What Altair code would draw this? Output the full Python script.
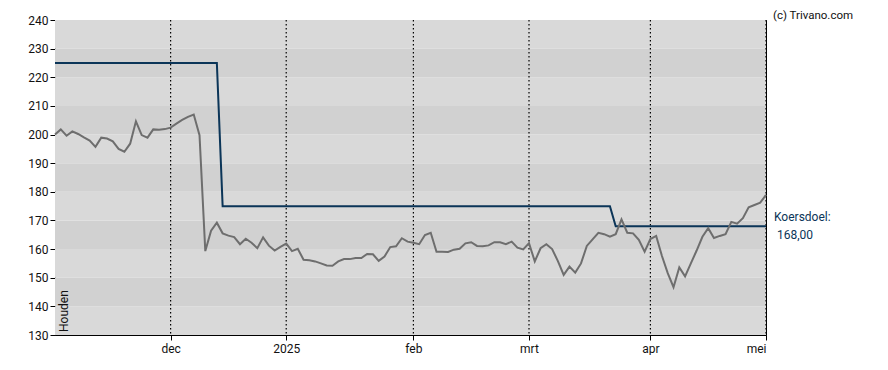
import altair as alt
import pandas as pd

# trading-day index (0 = start of chart) and closing prices
price = [200.0, 201.8, 199.6, 201.1, 200.2, 199.0, 197.9, 195.7, 198.9, 198.6,
         197.6, 195.0, 194.0, 196.8, 204.6, 199.8, 198.9, 201.8, 201.7, 201.9,
         202.4, 203.8, 205.1, 206.2, 207.0, 199.8, 159.3, 166.4, 169.2, 165.5,
         164.7, 164.2, 161.7, 163.6, 162.2, 160.3, 164.1, 161.2, 159.5, 160.8,
         161.9, 159.3, 160.1, 156.3, 156.1, 155.7, 155.0, 154.3, 154.2, 155.7,
         156.5, 156.5, 156.9, 156.9, 158.3, 158.2, 155.9, 157.4, 160.7, 161.0,
         163.8, 162.6, 162.2, 161.7, 164.9, 165.7, 159.1, 159.1, 159.0, 159.8,
         160.1, 162.0, 162.4, 161.1, 161.0, 161.3, 162.4, 162.4, 161.7, 162.6,
         160.5, 159.9, 162.1, 155.7, 160.3, 161.7, 160.0, 155.8, 151.0, 153.9,
         151.8, 155.0, 161.1, 163.4, 165.7, 165.2, 164.3, 165.2, 170.4, 165.7,
         165.5, 163.2, 159.1, 163.5, 164.6, 157.6, 151.6, 146.7, 153.6, 150.5,
         155.0, 159.5, 164.3, 167.3, 163.9, 164.6, 165.2, 169.5, 168.9, 170.8,
         174.6, 175.4, 176.2, 178.9]
day = list(range(len(price)))

target_day = [0, 28, 29, 96, 97, 123]
target_val = [225, 225, 175, 175, 168, 168]

tick_pos = [20, 40, 62, 82, 103, 123]
tick_lab = ["dec", "2025", "feb", "mrt", "apr", "mei"]

y_ticks = [130, 140, 150, 160, 170, 180, 190, 200, 210, 220, 230, 240]
band_lo = [130, 140, 150, 160, 170, 180, 190, 200, 210, 220, 230]
band_shade = ["a", "b", "a", "b", "a", "b", "a", "b", "a", "b", "a"]

W, H = 711, 315
NAVY = "#0b3558"
FONT = "Roboto"

lab_expr = "{" + ",".join(f"'{p}':'{l}'" for p, l in zip(tick_pos, tick_lab)) + "}[datum.value]"

xs = alt.Scale(domain=[0, 123], nice=False, zero=False)
ys = alt.Scale(domain=[130, 240], nice=False, zero=False)
yax = alt.Axis(values=y_ticks, title=None, grid=False, tickSize=5, labelPadding=2,
               domain=True, labelOverlap=False)
xax = alt.Axis(values=tick_pos, labelExpr=lab_expr, title=None, grid=False, tickSize=5,
               labelPadding=3, labelOverlap=False)

bands_df = pd.DataFrame({"lo": band_lo, "hi": [v + 10 for v in band_lo], "shade": band_shade})
bands = alt.Chart(bands_df).mark_rect().encode(
    x=alt.value(0), x2=alt.value(W),
    y=alt.Y("lo:Q", scale=ys, axis=yax),
    y2="hi:Q",
    color=alt.Color("shade:N", scale=alt.Scale(domain=["a", "b"], range=["#d9d9d9", "#d1d1d1"]), legend=None),
)

px_df = pd.DataFrame({"day": day, "price": price})
grid = alt.Chart(pd.DataFrame({"day": tick_pos})).mark_rule(
    color="black", strokeDash=[1.5, 2.5], strokeWidth=1.2
).encode(x=alt.X("day:Q", scale=xs, axis=xax))

line = alt.Chart(px_df).mark_line(color="#6e6e6e", strokeWidth=2).encode(
    x=alt.X("day:Q", scale=xs, axis=xax), y=alt.Y("price:Q", scale=ys, axis=yax))

tg_df = pd.DataFrame({"day": target_day, "val": target_val})
target = alt.Chart(tg_df).mark_line(color=NAVY, strokeWidth=2).encode(
    x=alt.X("day:Q", scale=xs, axis=xax), y=alt.Y("val:Q", scale=ys, axis=yax))

lab_df = pd.DataFrame({"val": [target_val[-1]], "t1": ["Koersdoel:"],
                       "t2": [f"{target_val[-1]:.2f}".replace(".", ",")]})
lab1 = alt.Chart(lab_df).mark_text(align="left", baseline="middle", dy=-9, font=FONT,
                                   fontSize=12, color=NAVY).encode(
    x=alt.value(W + 8), y=alt.Y("val:Q", scale=ys, axis=yax), text="t1:N")
lab2 = alt.Chart(lab_df).mark_text(align="left", baseline="middle", dy=8.5, font=FONT,
                                   fontSize=12, color=NAVY).encode(
    x=alt.value(W + 11), y=alt.Y("val:Q", scale=ys, axis=yax), text="t2:N")

credit = alt.Chart(pd.DataFrame({"t": ["(c) Trivano.com"]})).mark_text(
    align="left", baseline="middle", font=FONT, fontSize=11.5, color="#111111").encode(
    x=alt.value(W + 7), y=alt.value(-4.5), text="t:N")

houden = alt.Chart(pd.DataFrame({"t": ["Houden"]})).mark_text(
    align="left", baseline="middle", angle=270, font=FONT, fontSize=12, color="#111111").encode(
    x=alt.value(9), y=alt.value(312), text="t:N")

chart = alt.layer(bands, grid, target, line, lab1, lab2, credit, houden).properties(
    width=W, height=H,
    autosize=alt.AutoSizeParams(type="none"),
    padding={"left": 47, "top": 12, "right": 100, "bottom": 20},
).configure_view(stroke="black", strokeWidth=1).configure_axis(
    labelFont=FONT, labelFontSize=12, labelColor="#111111", domainColor="black",
    tickColor="black", domainWidth=1,
)

chart.save("out.html", embed_options={"renderer": "svg", "actions": False})
